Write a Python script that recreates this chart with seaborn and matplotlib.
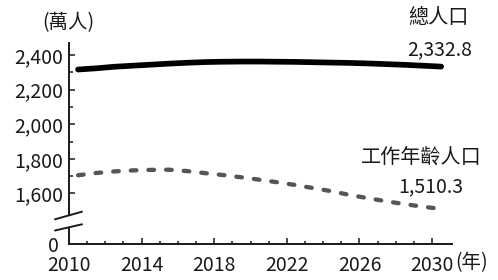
import numpy as np
import pandas as pd
import seaborn as sns
import matplotlib.pyplot as plt
from matplotlib.lines import Line2D
from matplotlib.ticker import FixedLocator

# values in 萬人, one per year
years = np.arange(2010, 2031)
total_pop = [2316, 2323, 2332, 2338, 2344, 2350, 2355, 2359, 2361, 2362, 2362,
             2361, 2360, 2358, 2356, 2354, 2351, 2347, 2343, 2338, 2332.8]
working_pop = [1705, 1718, 1727, 1733, 1736, 1737, 1729, 1717, 1706, 1693, 1679,
               1664, 1648, 1630, 1612, 1590, 1572, 1554, 1538, 1523, 1510.3]
y_ticks = [1600, 1800, 2000, 2200, 2400]
x_ticks = [2010, 2014, 2018, 2022, 2026, 2030]

df = pd.DataFrame({'year': years + 0.5, 'total': total_pop, 'working': working_pop})

sns.set_style('white')
plt.rcParams['font.family'] = ['Noto Sans CJK TC', 'DejaVu Sans']
ink = '#1a1a1a'
fs = 14

W, H = 498, 280
fig = plt.figure(figsize=(W / 100, H / 100), dpi=100)
fx = lambda px: px / W
fy = lambda py: 1 - py / H

left, right = 69, 451.7
ax = fig.add_axes([fx(left), fy(214), fx(right) - fx(left), fy(42.7) - fy(214)])
ax0 = fig.add_axes([fx(left), fy(244.3), fx(right) - fx(left), fy(228) - fy(244.3)])

sns.lineplot(data=df, x='year', y='total', ax=ax, color='black', linewidth=4.1,
             solid_capstyle='round')
sns.lineplot(data=df, x='year', y='working', ax=ax, color='#555555', linewidth=3.1,
             linestyle=(0, (1.3, 2.8)), dash_capstyle='round')

for a in (ax, ax0):
    a.set_xlim(2010, 2031.08)
    a.set_xlabel('')
    a.set_ylabel('')
    for s in ('top', 'right'):
        a.spines[s].set_visible(False)
    for s in ('left', 'bottom'):
        a.spines[s].set_color(ink)
        a.spines[s].set_linewidth(1.4)

ax.set_ylim(1481, 2471)
ax.spines['bottom'].set_visible(False)
ax.set_yticks(y_ticks)
ax.set_yticklabels([f'{v:,}' for v in y_ticks])
ax.yaxis.set_minor_locator(FixedLocator([1700, 1900, 2100, 2300]))
ax.set_xticks([])
ax.tick_params(axis='y', which='major', direction='in', length=4.3, width=1.1,
               color=ink, labelsize=fs, labelcolor=ink, pad=4, left=True)
ax.tick_params(axis='y', which='minor', direction='in', length=2.8, width=1.1,
               color=ink, left=True)

ax0.set_ylim(0, 1)
ax0.set_yticks([0])
ax0.set_yticklabels(['0'])
ax0.set_xticks(x_ticks)
ax0.set_xticklabels([str(v) for v in x_ticks])
ax0.xaxis.set_minor_locator(FixedLocator([y for y in range(2011, 2030) if y not in x_ticks]))
ax0.tick_params(axis='y', length=0, labelsize=fs, labelcolor=ink, pad=7, left=True)
ax0.tick_params(axis='x', which='major', direction='in', length=4.3, width=1.1,
                color=ink, labelsize=fs, labelcolor=ink, pad=8, bottom=True)
ax0.tick_params(axis='x', which='minor', direction='in', length=2.5, width=1.1,
                color=ink, bottom=True)

# axis break marks
for y0, y1 in [(219.3, 211.7), (230.5, 224.3)]:
    fig.add_artist(Line2D([fx(55), fx(82)], [fy(y0), fy(y1)], color=ink, linewidth=1.4))

# labels
ax.text(2032.0, 2614, '總人口', ha='right', va='center', fontsize=14.5,
        color=ink, clip_on=False)
ax.text(2032.2, 2429, '2,332.8', ha='right', va='center', fontsize=fs, color=ink,
        clip_on=False)
ax.text(2032.75, 1805, '工作年齡人口', ha='right', va='center', fontsize=14.5,
        color=ink, clip_on=False)
ax.text(2031.7, 1637, '1,510.3', ha='right', va='center', fontsize=fs, color=ink,
        clip_on=False)
fig.text(fx(68), fy(23), '(萬人)', ha='center', va='center', fontsize=14, color=ink)
fig.text(fx(472), fy(263), '(年)', ha='center', va='center', fontsize=14, color=ink)

fig.savefig('out.png', dpi=100)
